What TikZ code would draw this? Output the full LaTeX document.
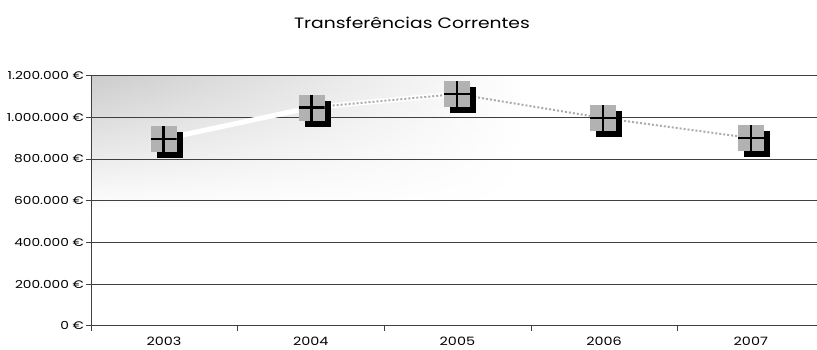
\documentclass[tikz,border=0pt]{standalone}
\usepackage{fontspec}
\setmainfont{Poppins}
\newfontfamily\chartfont[FakeStretch=1.25]{Poppins}
\usetikzlibrary{positioning,shadows,fadings}
\tikzset{
  datapoint/.style = {rectangle, minimum size=26pt, inner sep=0pt, fill=gray!60,
                      drop shadow={shadow xshift=6pt, shadow yshift=-6pt, fill=black, opacity=1},
                      path picture={\draw[line width=2.2pt]
                        (path picture bounding box.north) -- (path picture bounding box.south)
                        (path picture bounding box.west) -- (path picture bounding box.east);}},
  gridline/.style  = {black!75, line width=0.9pt},
  trendband/.style = {white, line width=5pt},
  trenddots/.style = {gray!65, line width=2pt, dotted},
  ylabel/.style    = {anchor=east, inner sep=0pt, font=\chartfont\fontsize{11}{13}\selectfont},
  xlabel/.style    = {inner sep=0pt, font=\chartfont\fontsize{11.5}{13}\selectfont}
}
\tikzfading[name=fadedown, top color=transparent!0, middle color=transparent!30,
            bottom color=transparent!100]
\pgfdeclarelayer{background}
\pgfsetlayers{background,main}

\begin{document}
\begin{tikzpicture}[x=1pt, y=-1pt]
\useasboundingbox (0,0) rectangle (817,349);

\node (title) at (412,23) {\chartfont\fontsize{15}{17}\selectfont Transferências Correntes};

% plot area
\begin{pgfonlayer}{background}
\shade[left color=gray!40, middle color=gray!35, right color=white, path fading=fadedown]
  (91,75.7) rectangle (525,210);
\foreach \v/\lab in {0/{0 €},1/{200.000 €},2/{400.000 €},3/{600.000 €},4/{800.000 €},5/{1.000.000 €},6/{1.200.000 €}} {
  \draw[gridline] (86,{325.7-41.67*\v}) -- (817,{325.7-41.67*\v});
  \node (y\v) [ylabel] at (84,{325.7-41.67*\v}) {\lab};
}
\draw[gridline] (91,75.7) -- (91,325.7);
\foreach \i in {0,...,4}
  \draw[gridline] ({91+146.7*\i},325.7) -- ++(0,5);
\end{pgfonlayer}

\foreach \yr [count=\i from 0] in {2003,2004,2005,2006,2007}
  \node (x\yr) [xlabel] at ({164+146.7*\i},341) {\yr};

% values
\node (m2003) [datapoint] at (163.5,139)   {};
\node (m2004) [datapoint] at (311.5,107.5) {};
\node (m2005) [datapoint] at (457,94)      {};
\node (m2006) [datapoint] at (603,118)     {};
\node (m2007) [datapoint] at (751,138)     {};

\begin{pgfonlayer}{background}
\draw[trendband] (m2003) -- (m2004) -- (m2005);
\draw[trenddots] (m2004) -- (m2005) -- (m2006) -- (m2007);
\end{pgfonlayer}

\end{tikzpicture}
\end{document}
